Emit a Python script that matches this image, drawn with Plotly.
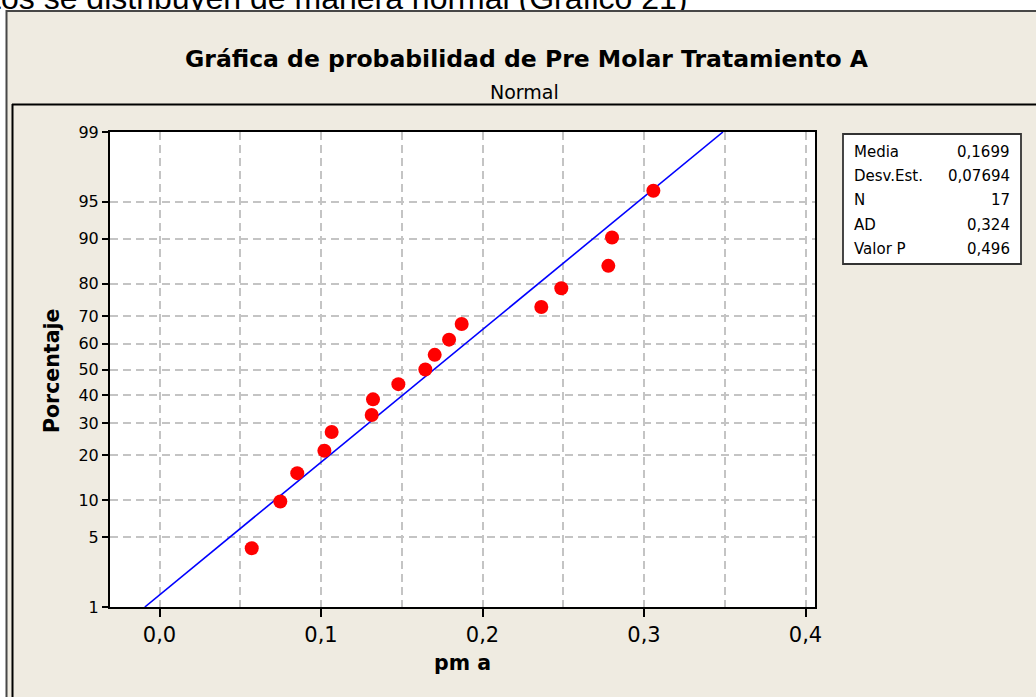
import plotly.graph_objects as go
from statistics import NormalDist

# Sample values (pm a), ascending, with their plotting percentages
PM_A = [0.0571, 0.0748, 0.0853, 0.1021, 0.1066, 0.1314, 0.1322, 0.1479, 0.1646,
        0.1704, 0.1793, 0.1871, 0.2364, 0.2488, 0.2779, 0.2802, 0.3058]
PERCENT = [4.0, 9.8, 15.5, 21.3, 27.0, 32.8, 38.5, 44.3, 50.0, 55.7, 61.5, 67.2,
           73.0, 78.7, 84.5, 90.2, 96.0]

# Probability-scale ticks and x ticks
Y_TICKS = [1, 5, 10, 20, 30, 40, 50, 60, 70, 80, 90, 95, 99]
X_TICKS = [0.0, 0.1, 0.2, 0.3, 0.4]
X_TICK_LABELS = ["0,0", "0,1", "0,2", "0,3", "0,4"]

# Fitted normal parameters and summary table
MEDIA = 0.1699
DESV_EST = 0.07694
STAT_LABELS = ["Media", "Desv.Est.", "N", "AD", "Valor P"]
STAT_VALUES = ["0,1699", "0,07694", "17", "0,324", "0,496"]

TITLE = "Gráfica de probabilidad de Pre Molar Tratamiento A"
SUBTITLE = "Normal"
X_TITLE = "pm a"
Y_TITLE = "Porcentaje"
PAGE_TEXT = "Los datos se distribuyen de manera normal (Gráfico 21)"

nd = NormalDist()


def z_of(p):
    return nd.inv_cdf(p / 100.0)


W, H = 1036, 697
L, R, T, B = 110, 815, 132, 607
BEIGE = "#EFEBE1"
FONT = "DejaVu Sans"
X0_PX, PX_PER_UNIT = 159.5, 1615.0


def px(x):
    return (x - L) / (R - L)


def py(y):
    return (B - y) / (B - T)


z_lo, z_hi = z_of(Y_TICKS[0]), z_of(Y_TICKS[-1])

fig = go.Figure()

# fitted line from the distribution parameters
fig.add_trace(go.Scatter(
    x=[MEDIA + DESV_EST * z_lo, MEDIA + DESV_EST * z_hi],
    y=[z_lo, z_hi],
    mode="lines",
    line=dict(color="#0000FF", width=1.6),
    hoverinfo="skip",
    showlegend=False,
))

# observed data
fig.add_trace(go.Scatter(
    x=PM_A,
    y=[z_of(p) for p in PERCENT],
    mode="markers",
    marker=dict(color="#FF0000", size=14, line=dict(width=0)),
    showlegend=False,
))

grid = dict(gridcolor="#C4C4C4", gridwidth=1.5, griddash="8px,5px")

fig.update_xaxes(
    range=[(L - X0_PX) / PX_PER_UNIT, (R - X0_PX) / PX_PER_UNIT],
    tickvals=X_TICKS, ticktext=X_TICK_LABELS,
    ticks="outside", ticklen=8, tickwidth=1.5, tickcolor="black",
    showline=True, linecolor="black", linewidth=2, mirror=True,
    showgrid=False, zeroline=False,
    minor=dict(dtick=0.05, tick0=0, showgrid=True, ticks="", **grid),
    tickfont=dict(family=FONT, size=21, color="black"),
)
fig.update_yaxes(
    range=[z_lo, z_hi],
    tickvals=[z_of(v) for v in Y_TICKS], ticktext=[str(v) for v in Y_TICKS],
    ticks="outside", ticklen=6, tickwidth=1.5, tickcolor="black",
    showline=True, linecolor="black", linewidth=2, mirror=True,
    showgrid=True, zeroline=False, **grid,
    tickfont=dict(family=FONT, size=16, color="black"),
)

shapes = [
    # white page area outside the graph window
    dict(type="rect", xref="paper", yref="paper", x0=px(0), x1=px(W), y0=py(0), y1=py(10),
         fillcolor="white", line=dict(width=0), layer="below"),
    dict(type="rect", xref="paper", yref="paper", x0=px(0), x1=px(6), y0=py(0), y1=py(H),
         fillcolor="white", line=dict(width=0), layer="below"),
    # window frame
    dict(type="line", xref="paper", yref="paper", x0=px(6.5), x1=px(6.5), y0=py(10), y1=py(H),
         line=dict(color="#474747", width=2)),
    dict(type="line", xref="paper", yref="paper", x0=px(12.5), x1=px(12.5), y0=py(104), y1=py(H),
         line=dict(color="black", width=2)),
    dict(type="line", xref="paper", yref="paper", x0=px(12), x1=px(W), y0=py(104.5), y1=py(104.5),
         line=dict(color="black", width=2)),
    # summary box
    dict(type="rect", xref="paper", yref="paper", x0=px(843), x1=px(1021), y0=py(134), y1=py(264),
         fillcolor="white", line=dict(color="#333333", width=1.8)),
]

annotations = [
    dict(text=PAGE_TEXT, xref="paper", yref="paper", x=px(690), y=py(18),
         xanchor="right", yanchor="bottom", showarrow=False,
         font=dict(family="Liberation Sans", size=32, color="black")),
    # beige band and top edge of the window, drawn over the page text
    dict(text=" ", xref="paper", yref="paper", x=px(8), y=py(11), xanchor="left", yanchor="top",
         width=W - 8, height=16, bgcolor=BEIGE, borderpad=0, borderwidth=0, showarrow=False,
         font=dict(size=1)),
    dict(text=" ", xref="paper", yref="paper", x=px(6), y=py(9.5), xanchor="left", yanchor="top",
         width=W - 6, height=2, bgcolor="#474747", borderpad=0, borderwidth=0, showarrow=False,
         font=dict(size=1)),
    dict(text="<b>" + TITLE + "</b>", xref="paper", yref="paper", x=px(527), y=py(59),
         xanchor="center", yanchor="middle", showarrow=False,
         font=dict(family=FONT, size=23.5, color="black")),
    dict(text=SUBTITLE, xref="paper", yref="paper", x=px(524), y=py(92),
         xanchor="center", yanchor="middle", showarrow=False,
         font=dict(family=FONT, size=19, color="black")),
    dict(text="<b>" + Y_TITLE + "</b>", xref="paper", yref="paper", x=px(52), y=py(371),
         xanchor="center", yanchor="middle", textangle=-90, showarrow=False,
         font=dict(family=FONT, size=20.5, color="black")),
    dict(text="<b>" + X_TITLE + "</b>", xref="paper", yref="paper", x=px(462), y=py(663),
         xanchor="center", yanchor="middle", showarrow=False,
         font=dict(family=FONT, size=20.5, color="black")),
]

row_y = [151.5, 175.5, 200, 224.5, 249]
for lab, val, yy in zip(STAT_LABELS, STAT_VALUES, row_y):
    annotations.append(dict(text=lab, xref="paper", yref="paper", x=px(852), y=py(yy),
                            xanchor="left", yanchor="middle", showarrow=False,
                            font=dict(family=FONT, size=15, color="black")))
    annotations.append(dict(text=val, xref="paper", yref="paper", x=px(1012), y=py(yy),
                            xanchor="right", yanchor="middle", showarrow=False,
                            font=dict(family=FONT, size=15, color="black")))

fig.update_layout(
    width=W, height=H,
    margin=dict(l=L, r=W - R, t=T, b=H - B, pad=0),
    paper_bgcolor=BEIGE, plot_bgcolor="white",
    shapes=shapes, annotations=annotations,
    showlegend=False,
)

fig.write_html("out.html")
